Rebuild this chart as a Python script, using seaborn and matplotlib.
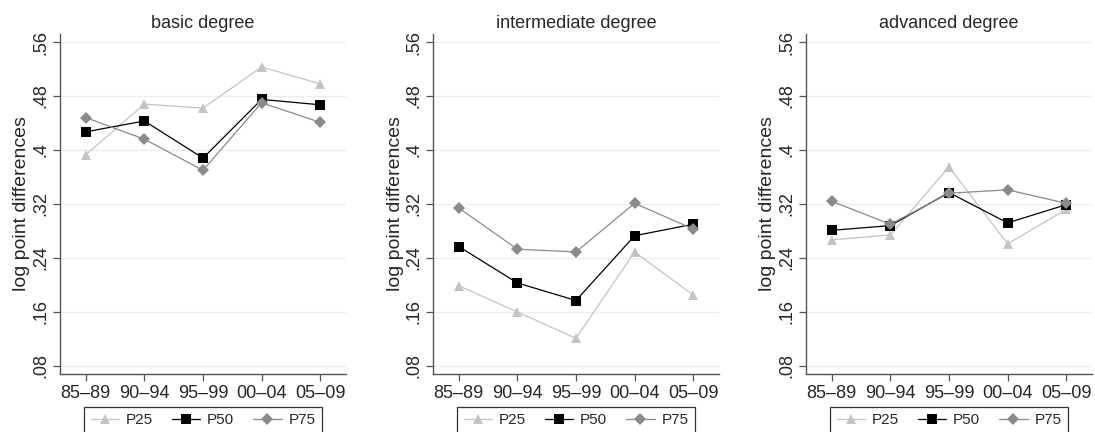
import numpy as np
import pandas as pd
import matplotlib
matplotlib.use("Agg")
import matplotlib.pyplot as plt
import seaborn as sns

periods = ["85–89", "90–94", "95–99", "00–04", "05–09"]
panels = ["basic degree", "intermediate degree", "advanced degree"]
series = ["P25", "P50", "P75"]

basic_p25 = [0.393, 0.468, 0.462, 0.523, 0.498]
basic_p50 = [0.427, 0.443, 0.388, 0.475, 0.467]
basic_p75 = [0.448, 0.416, 0.370, 0.470, 0.441]

inter_p25 = [0.199, 0.160, 0.121, 0.249, 0.185]
inter_p50 = [0.257, 0.203, 0.177, 0.273, 0.290]
inter_p75 = [0.314, 0.253, 0.249, 0.321, 0.283]

adv_p25 = [0.267, 0.274, 0.375, 0.261, 0.312]
adv_p50 = [0.281, 0.288, 0.337, 0.292, 0.319]
adv_p75 = [0.324, 0.290, 0.336, 0.341, 0.321]

yticks = [0.08, 0.16, 0.24, 0.32, 0.40, 0.48, 0.56]
ytick_labels = [".08", ".16", ".24", ".32", ".4", ".48", ".56"]

panel_data = {
    "basic degree": [basic_p25, basic_p50, basic_p75],
    "intermediate degree": [inter_p25, inter_p50, inter_p75],
    "advanced degree": [adv_p25, adv_p50, adv_p75],
}

rows = []
for p in panels:
    for s, vals in zip(series, panel_data[p]):
        for i, v in enumerate(vals):
            rows.append({"panel": p, "pct": s, "x": i, "value": v})
df = pd.DataFrame(rows)

sns.set_style("white")
plt.rcParams["font.family"] = ["Liberation Sans", "DejaVu Sans"]

palette = {"P25": "#c4c4c4", "P50": "#000000", "P75": "#8a8a8a"}
markers = {"P25": "^", "P50": "s", "P75": "D"}

fig = plt.figure(figsize=(10.95, 4.32), dpi=100)
lefts = [60 / 1095, 433 / 1095, 806 / 1095]
width = 286 / 1095
bottom = 1 - 374 / 432
height = (374 - 34) / 432

for p, left in zip(panels, lefts):
    ax = fig.add_axes([left, bottom, width, height])
    sub = df[df["panel"] == p]
    sns.lineplot(data=sub, x="x", y="value", hue="pct", style="pct",
                 palette=palette, markers=markers, dashes=False,
                 linewidth=0.9, markersize=6.5, markeredgewidth=0,
                 ax=ax, legend=True)
    ax.set_xlim(-0.44, 4.44)
    ax.set_ylim(0.0681, 0.5719)
    ax.set_xticks(range(len(periods)))
    ax.set_xticklabels(periods, fontsize=13)
    ax.set_yticks(yticks)
    ax.set_yticklabels(ytick_labels, fontsize=13, rotation=90, va="center")
    ax.yaxis.grid(True, color="#e6eff1", linewidth=1.0)
    ax.xaxis.grid(False)
    ax.set_axisbelow(True)
    for side in ["top", "right"]:
        ax.spines[side].set_visible(False)
    for side in ["left", "bottom"]:
        ax.spines[side].set_color("#555555")
        ax.spines[side].set_linewidth(1.0)
    ax.tick_params(axis="both", direction="out", length=5, width=0.9,
                   color="#555555", left=True, bottom=True, pad=3)
    ax.set_xlabel("")
    ax.set_ylabel("log point differences", fontsize=14, labelpad=1)
    ax.set_title(p, fontsize=13, pad=4)
    handles, labels = ax.get_legend_handles_labels()
    ax.get_legend().remove()
    cx = left + width / 2
    leg = ax.legend(handles, labels, ncol=3, loc="upper center",
                    bbox_to_anchor=(cx, 1 - 407 / 432),
                    bbox_transform=fig.transFigure,
                    frameon=True, fancybox=False, fontsize=11,
                    handlelength=1.85, columnspacing=1.25, handletextpad=0.45,
                    borderpad=0.4, borderaxespad=0)
    leg.get_frame().set_edgecolor("#000000")
    leg.get_frame().set_linewidth(0.9)

fig.savefig("out.png", dpi=100)
